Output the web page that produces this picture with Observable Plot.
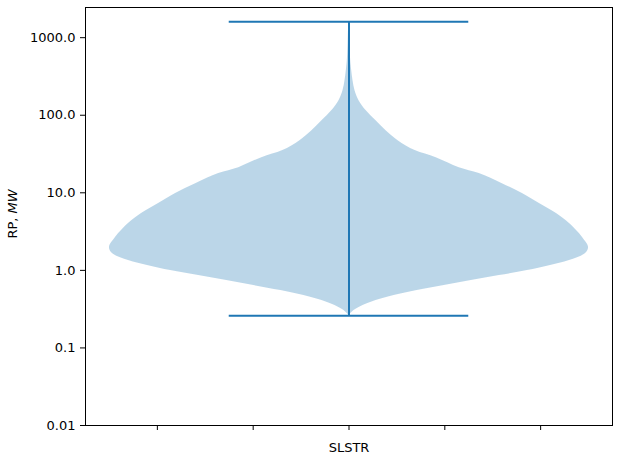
<!DOCTYPE html>
<html>
<head>
<meta charset="utf-8">
<script src="https://cdn.jsdelivr.net/npm/d3@7"></script>
<script src="https://cdn.jsdelivr.net/npm/@observablehq/plot@0.6"></script>
<style>
  html, body { margin: 0; padding: 0; background: #fff; }
  svg { display: block; }
</style>
</head>
<body>
<div id="chart"></div>
<script>
// Category
const categories = ["SLSTR"];
const positions = [1];

// Violin profile: RP values (MW) and normalized density (max = 1)
const rpValues = [0.262, 0.303, 0.352, 0.408, 0.473, 0.549, 0.637, 0.739, 0.857, 0.994,
  1.15, 1.34, 1.65, 1.97, 2.65, 3.26, 4.01, 5.40, 7.26, 9.77,
  13.1, 17.7, 21.1, 28.4, 35, 47, 63, 85, 115, 154,
  207, 279, 376, 505, 789, 1231, 1607];
const halfWidths = [0, 5, 14, 27, 45, 68, 95, 122, 150, 178,
  200, 220, 236, 239, 233, 227, 220, 207, 190, 173,
  153, 130, 110, 87, 66, 49, 37, 27, 17, 10,
  6, 4, 2.7, 1.7, 1, 0.5, 0];

// Extremes
const rpMin = [0.26];
const rpMax = [1607];

// Axis ticks
const yTicks = [0.01, 0.1, 1, 10, 100, 1000];
const yTickLabels = ["0.01", "0.1", "1.0", "10.0", "100.0", "1000.0"];
const xTicks = [0.8, 0.9, 1.0, 1.1, 1.2];

const violinWidth = 0.5;
const maxHW = d3.max(halfWidths);
const profile = rpValues.map((v, i) => ({rp: v, d: halfWidths[i] / maxHW}));
const center = positions[0];
const half = violinWidth / 2;
const capHalf = violinWidth / 4;

const blue = "#1f77b4";

const plot = Plot.plot({
  width: 620,
  height: 457,
  marginTop: 7,
  marginRight: 8,
  marginBottom: 32,
  marginLeft: 85,
  style: {fontFamily: "DejaVu Sans", fontSize: "13px", color: "black", background: "white"},
  x: {domain: [0.725, 1.275]},
  y: {type: "log", domain: [0.01, 2450]},
  marks: [
    Plot.areaX(profile, {
      y: "rp",
      x1: d => center - half * d.d,
      x2: d => center + half * d.d,
      fill: blue,
      fillOpacity: 0.3,
      curve: "catmull-rom"
    }),
    Plot.ruleX(positions, {x: d => d, y1: rpMin[0], y2: rpMax[0], stroke: blue, strokeWidth: 2}),
    Plot.ruleY(rpMin.concat(rpMax), {y: d => d, x1: center - capHalf, x2: center + capHalf, stroke: blue, strokeWidth: 2}),
    Plot.axisY({
      ticks: yTicks,
      tickFormat: d => yTickLabels[yTicks.indexOf(d)],
      tickSize: 5,
      tickPadding: 5,
      label: null,
      stroke: "black"
    }),
    Plot.axisX({
      ticks: xTicks,
      tickFormat: d => (Math.abs(d - center) < 1e-9 ? categories[0] : ""),
      tickSize: 5,
      tickPadding: 12,
      label: null,
      stroke: "black"
    }),
    Plot.frame({stroke: "black", strokeWidth: 1})
  ]
});

document.getElementById("chart").appendChild(plot);

// Y axis label with italic unit
const svg = d3.select(plot);
const lbl = svg.append("text")
  .attr("transform", "translate(16.5,214) rotate(-90)")
  .attr("text-anchor", "middle")
  .attr("font-family", "DejaVu Sans")
  .attr("font-size", "13px")
  .attr("fill", "black");
lbl.append("tspan").text("RP, ");
lbl.append("tspan").attr("font-style", "italic").text("MW");
</script>
</body>
</html>
